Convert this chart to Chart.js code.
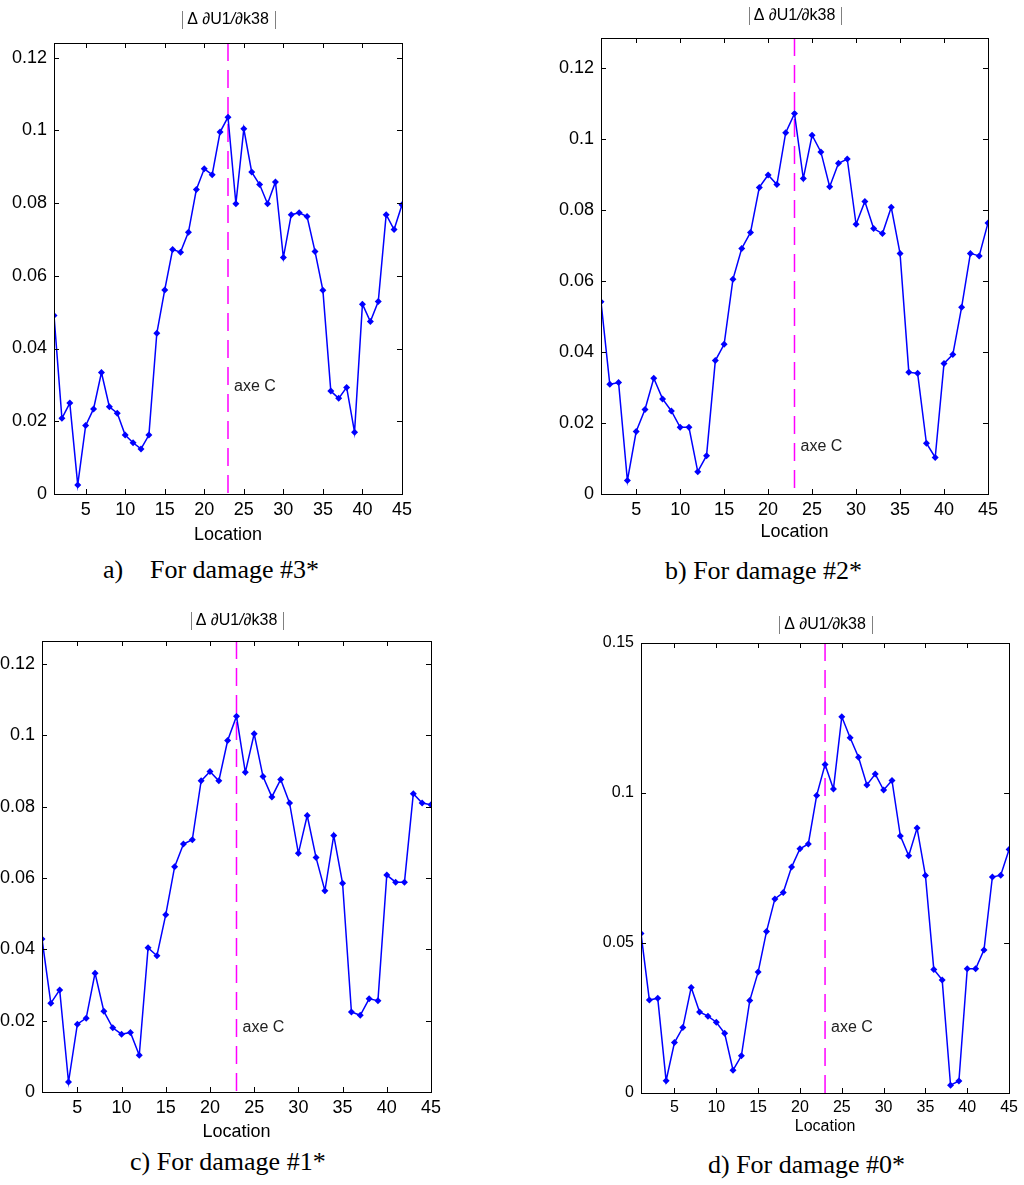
<!DOCTYPE html>
<html lang="en">
<head>
<meta charset="UTF-8">
<title>|Δ ∂U1/∂k38| - Location</title>
<script src="https://cdn.jsdelivr.net/npm/chart.js@4"></script>
<style>
    body { margin: 0; background: #fff; overflow: hidden; }
    #page { position: relative; width: 1024px; height: 1185px; overflow: hidden; }
    #page canvas { position: absolute; }
    .caption {
        position: absolute;
        font-family: "Liberation Serif", "Times New Roman", serif;
        font-size: 26px;
        line-height: 26px;
        color: #000;
        white-space: pre;
    }
</style>
</head>
<body>
<div id="page">
    <canvas id="chartA"></canvas>
    <canvas id="chartB"></canvas>
    <canvas id="chartC"></canvas>
    <canvas id="chartD"></canvas>

    <div class="caption" style="left:103px; top:557px">a)</div>
    <div class="caption" style="left:150px; top:557px">For damage #3*</div>
    <div class="caption" style="left:665px; top:558px">b) For damage #2*</div>
    <div class="caption" style="left:130px; top:1149px">c) For damage #1*</div>
    <div class="caption" style="left:708px; top:1152px">d) For damage #0*</div>
</div>

<script>
// x positions along the structure
const locations = [1, 2, 3, 4, 5, 6, 7, 8, 9, 10, 11, 12, 13, 14, 15, 16, 17, 18, 19, 20, 21, 22, 23,
    24, 25, 26, 27, 28, 29, 30, 31, 32, 33, 34, 35, 36, 37, 38, 39, 40, 41, 42, 43, 44, 45];

// |Δ ∂U1/∂k38| for each damage case
const damage3 = [0.0491, 0.0208, 0.0250, 0.0025, 0.0188, 0.0234, 0.0334, 0.0240, 0.0222, 0.0162,
    0.0141, 0.0124, 0.0162, 0.0442, 0.0561, 0.0672, 0.0665, 0.0720, 0.0837, 0.0894,
    0.0878, 0.0995, 0.1036, 0.0798, 0.1004, 0.0885, 0.0851, 0.0798, 0.0858, 0.0650,
    0.0768, 0.0773, 0.0763, 0.0667, 0.0560, 0.0283, 0.0263, 0.0293, 0.0170, 0.0522,
    0.0474, 0.0529, 0.0768, 0.0727, 0.0795];
const damage2 = [0.0542, 0.0309, 0.0314, 0.0038, 0.0176, 0.0238, 0.0326, 0.0268, 0.0234, 0.0188,
    0.0188, 0.0063, 0.0108, 0.0376, 0.0422, 0.0605, 0.0692, 0.0737, 0.0864, 0.0899,
    0.0872, 0.1018, 0.1072, 0.0889, 0.1011, 0.0964, 0.0866, 0.0932, 0.0944, 0.0760,
    0.0824, 0.0748, 0.0734, 0.0808, 0.0678, 0.0343, 0.0340, 0.0143, 0.0103, 0.0368,
    0.0393, 0.0526, 0.0678, 0.0671, 0.0764];
const damage1 = [0.0429, 0.0249, 0.0286, 0.0028, 0.0190, 0.0207, 0.0333, 0.0226, 0.0180, 0.0162,
    0.0167, 0.0103, 0.0404, 0.0382, 0.0497, 0.0631, 0.0695, 0.0707, 0.0872, 0.0898,
    0.0872, 0.0985, 0.1053, 0.0896, 0.1004, 0.0884, 0.0827, 0.0876, 0.0810, 0.0669,
    0.0775, 0.0657, 0.0564, 0.0719, 0.0585, 0.0224, 0.0215, 0.0261, 0.0256, 0.0608,
    0.0588, 0.0588, 0.0836, 0.0810, 0.0805];
const damage0 = [0.0532, 0.0310, 0.0316, 0.0041, 0.0168, 0.0218, 0.0352, 0.0270, 0.0256, 0.0236,
    0.0199, 0.0076, 0.0124, 0.0308, 0.0403, 0.0538, 0.0647, 0.0668, 0.0753, 0.0814,
    0.0830, 0.0992, 0.1095, 0.1013, 0.1254, 0.1184, 0.1119, 0.1027, 0.1063, 0.1010,
    0.1042, 0.0857, 0.0791, 0.0883, 0.0725, 0.0412, 0.0377, 0.0026, 0.0040, 0.0414,
    0.0414, 0.0477, 0.0720, 0.0726, 0.0812];

// tick values
const xTicks = [5, 10, 15, 20, 25, 30, 35, 40, 45];
const yTicksFine = [0, 0.02, 0.04, 0.06, 0.08, 0.1, 0.12];
const yTicksCoarse = [0, 0.05, 0.1, 0.15];

// axis C sits at location 23
const axeCLocation = 23;
const axeCText = 'axe C';
const xTitle = 'Location';

const SANS = '"Liberation Sans", Arial, Helvetica, sans-serif';

// box = plot frame in page pixels
const panels = [
    { id: 'chartA', values: damage3, yTicks: yTicksFine, yMax: 0.124,
      box: { left: 54, top: 43, right: 407, bottom: 494 }, font: 18,
      axeY: 0.0295, titleGap: 23, labelGap: 41 },
    { id: 'chartB', values: damage2, yTicks: yTicksFine, yMax: 0.1285,
      box: { left: 601, top: 38, right: 993, bottom: 494 }, font: 18,
      axeY: 0.0133, titleGap: 22, labelGap: 38 },
    { id: 'chartC', values: damage1, yTicks: yTicksFine, yMax: 0.1264,
      box: { left: 42, top: 641, right: 436, bottom: 1092 }, font: 18,
      axeY: 0.018, titleGap: 20, labelGap: 40 },
    { id: 'chartD', values: damage0, yTicks: yTicksCoarse, yMax: 0.15,
      box: { left: 641, top: 643, right: 1013, bottom: 1093 }, font: 16,
      axeY: 0.0217, titleGap: 18, labelGap: 34 }
];

const PAD_LEFT = 60, PAD_TOP = 40, PAD_RIGHT = 10, PAD_BOTTOM = 55;

// title  |Δ ∂U1/∂k38|  with italic partials and thin grey bars
function drawTitle(ctx, cx, cy, size) {
    const parts = [
        { t: 'Δ ', it: false },
        { t: '∂', it: true },
        { t: 'U1', it: false },
        { t: '/∂', it: true },
        { t: 'k38', it: false }
    ];
    let total = 0;
    parts.forEach(p => {
        ctx.font = (p.it ? 'italic ' : '') + size + 'px ' + SANS;
        p.w = ctx.measureText(p.t).width;
        total += p.w;
    });
    let x = cx - total / 2;
    ctx.fillStyle = '#000';
    ctx.textBaseline = 'middle';
    ctx.textAlign = 'left';
    parts.forEach(p => {
        ctx.font = (p.it ? 'italic ' : '') + size + 'px ' + SANS;
        ctx.fillText(p.t, x, cy);
        x += p.w;
    });
    ctx.strokeStyle = '#808080';
    ctx.lineWidth = 1;
    ctx.beginPath();
    const lx = Math.round(cx - total / 2 - 5) + 0.5;
    const rx = Math.round(cx + total / 2 + 6) + 0.5;
    ctx.moveTo(lx, cy - 9); ctx.lineTo(lx, cy + 9);
    ctx.moveTo(rx, cy - 9); ctx.lineTo(rx, cy + 9);
    ctx.stroke();
}

const decorations = {
    id: 'decorations',
    beforeDatasetsDraw(chart, args, opts) {
        const { ctx, chartArea: a, scales: { x } } = chart;
        const xc = x.getPixelForValue(axeCLocation);
        ctx.save();
        ctx.strokeStyle = '#ff00ff';
        ctx.lineWidth = 1.5;
        ctx.setLineDash([18, 9]);
        ctx.beginPath();
        ctx.moveTo(xc, a.top);
        ctx.lineTo(xc, a.bottom);
        ctx.stroke();
        ctx.restore();
    },
    afterDraw(chart, args, opts) {
        const { ctx, chartArea: a, scales: { x, y } } = chart;
        const p = opts.panel;
        ctx.save();

        // frame
        ctx.strokeStyle = '#000';
        ctx.lineWidth = 1;
        ctx.strokeRect(Math.round(a.left) + 0.5, Math.round(a.top) + 0.5,
            Math.round(a.right - a.left), Math.round(a.bottom - a.top));

        // inward ticks on all four sides
        const len = 5;
        ctx.beginPath();
        xTicks.forEach(v => {
            const px = Math.round(x.getPixelForValue(v)) + 0.5;
            ctx.moveTo(px, a.bottom); ctx.lineTo(px, a.bottom - len);
            ctx.moveTo(px, a.top); ctx.lineTo(px, a.top + len);
        });
        p.yTicks.forEach(v => {
            const py = Math.round(y.getPixelForValue(v)) + 0.5;
            ctx.moveTo(a.left, py); ctx.lineTo(a.left + len, py);
            ctx.moveTo(a.right, py); ctx.lineTo(a.right - len, py);
        });
        ctx.stroke();

        // axis C label
        ctx.fillStyle = '#222';
        ctx.font = '16px ' + SANS;
        ctx.textAlign = 'left';
        ctx.textBaseline = 'middle';
        ctx.fillText(axeCText, x.getPixelForValue(axeCLocation) + 6, y.getPixelForValue(p.axeY));

        // x axis title
        ctx.fillStyle = '#000';
        ctx.font = p.font + 'px ' + SANS;
        ctx.textAlign = 'center';
        ctx.fillText(xTitle, (a.left + a.right) / 2, a.bottom + p.labelGap);

        drawTitle(ctx, (a.left + a.right) / 2, a.top - p.titleGap, 16);
        ctx.restore();
    }
};

panels.forEach(p => {
    const canvas = document.getElementById(p.id);
    const w = p.box.right - p.box.left + PAD_LEFT + PAD_RIGHT;
    const h = p.box.bottom - p.box.top + PAD_TOP + PAD_BOTTOM;
    canvas.width = w;
    canvas.height = h;
    canvas.style.width = w + 'px';
    canvas.style.height = h + 'px';
    canvas.style.left = (p.box.left - PAD_LEFT) + 'px';
    canvas.style.top = (p.box.top - PAD_TOP) + 'px';

    new Chart(canvas.getContext('2d'), {
        type: 'line',
        data: {
            datasets: [{
                data: locations.map((loc, i) => ({ x: loc, y: p.values[i] })),
                borderColor: '#0000ff',
                backgroundColor: '#0000ff',
                borderWidth: 1.5,
                pointStyle: 'rectRot',
                pointRadius: 3.5,
                pointBorderWidth: 0,
                tension: 0
            }]
        },
        options: {
            responsive: false,
            animation: false,
            events: [],
            layout: {
                autoPadding: false,
                padding: { left: 0, top: PAD_TOP, right: PAD_RIGHT, bottom: 0 }
            },
            plugins: {
                legend: { display: false },
                tooltip: { enabled: false },
                decorations: { panel: p }
            },
            scales: {
                x: {
                    type: 'linear',
                    min: 1,
                    max: 45,
                    grid: { display: false, drawTicks: false },
                    border: { display: false },
                    afterBuildTicks: s => { s.ticks = xTicks.map(v => ({ value: v })); },
                    afterFit: s => { s.height = PAD_BOTTOM; },
                    ticks: {
                        padding: 5,
                        color: '#000',
                        font: { family: SANS, size: p.font },
                        maxRotation: 0,
                        autoSkip: false
                    }
                },
                y: {
                    min: 0,
                    max: p.yMax,
                    grid: { display: false, drawTicks: false },
                    border: { display: false },
                    afterBuildTicks: s => { s.ticks = p.yTicks.map(v => ({ value: v })); },
                    afterFit: s => { s.width = PAD_LEFT; },
                    ticks: {
                        padding: 7,
                        color: '#000',
                        font: { family: SANS, size: p.font },
                        autoSkip: false,
                        callback: v => String(+v.toFixed(3))
                    }
                }
            }
        },
        plugins: [decorations]
    });
});
</script>
</body>
</html>
